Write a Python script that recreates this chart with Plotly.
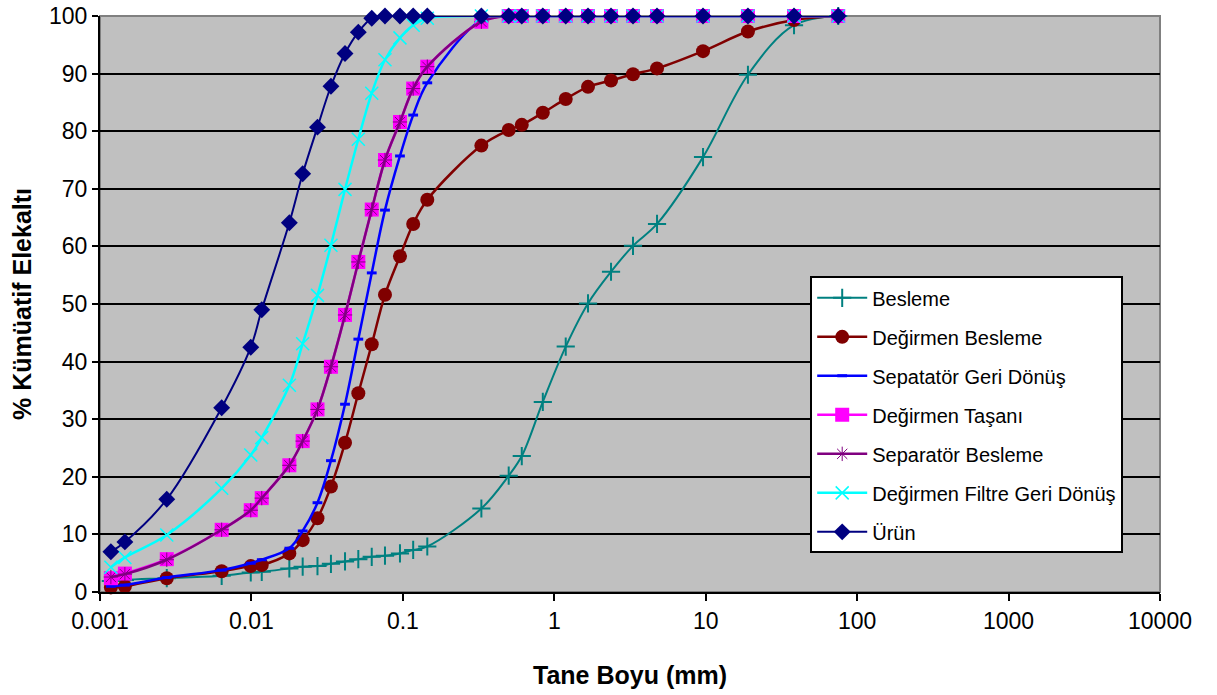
import plotly.graph_objects as go

# Sieve / particle sizes (mm), shared by all samples
sizes = [0.00118, 0.00146, 0.00276, 0.00636, 0.0099, 0.0117, 0.0178, 0.0218,
         0.0273, 0.0335, 0.0415, 0.0508, 0.0623, 0.0762, 0.0957, 0.117, 0.145,
         0.33, 0.5, 0.61, 0.84, 1.19, 1.67, 2.37, 3.31, 4.77, 9.6, 19.0, 38.3, 75.0]

# Cumulative passing (%) for each stream
besleme = [1.9, 2.1, 2.4, 2.8, 3.4, 3.5, 4.1, 4.4, 4.5, 4.9, 5.3, 5.7, 6.1, 6.3,
           6.7, 7.3, 7.9, 14.5, 20.2, 23.6, 33.0, 42.6, 50.1, 55.6, 60.1, 63.9,
           75.5, 89.8, 98.4, 100]
degirmen_besleme = [0.8, 1.0, 2.4, 3.6, 4.5, 4.7, 6.7, 9.0, 12.8, 18.3, 25.9,
                    34.5, 43.0, 51.6, 58.3, 63.9, 68.1, 77.5, 80.2, 81.1, 83.2,
                    85.6, 87.7, 88.8, 89.9, 90.9, 93.9, 97.3, 99.3, 100]
sepatator_geri = [1.0, 1.2, 2.5, 3.8, 5.0, 5.6, 7.6, 10.6, 15.5, 22.8, 32.6,
                  43.9, 55.4, 66.3, 75.7, 82.8, 88.4, 99.3, 100, 100, 100, 100,
                  100, 100, 100, 100, 100, 100, 100, 100]
degirmen_tasani = [2.4, 3.2, 5.7, 10.8, 14.2, 16.3, 22.0, 26.2, 31.7, 39.1,
                   48.1, 57.3, 66.4, 75.0, 81.6, 87.4, 91.2, 99.0, 100, 100, 100,
                   100, 100, 100, 100, 100, 100, 100, 100, 100]
separator_besleme = [2.6, 3.1, 5.6, 10.8, 14.2, 16.3, 22.0, 26.2, 31.7, 39.1,
                     48.1, 57.3, 66.4, 75.0, 81.6, 87.4, 91.2, 99.0, 100, 100,
                     100, 100, 100, 100, 100, 100, 100, 100, 100, 100]
filtre_geri = [4.3, 6.0, 9.9, 18.0, 23.8, 26.8, 35.9, 43.1, 51.5, 60.2, 69.9,
               78.6, 86.6, 92.4, 96.2, 98.4, 99.6, 100, 100, 100, 100, 100, 100,
               100, 100, 100, 100, 100, 100, 100]
urun = [7.0, 8.7, 16.1, 32.0, 42.5, 49.0, 64.1, 72.6, 80.7, 87.8, 93.5, 97.2,
        99.6, 100, 100, 100, 100, 100, 100, 100, 100, 100, 100, 100, 100, 100,
        100, 100, 100, 100]

x_ticks = [0.001, 0.01, 0.1, 1, 10, 100, 1000, 10000]
x_tick_text = ["0.001", "0.01", "0.1", "1", "10", "100", "1000", "10000"]
y_ticks = [0, 10, 20, 30, 40, 50, 60, 70, 80, 90, 100]

series = [
    ("Besleme", besleme, "#008080", 2, dict(symbol="cross-thin", size=13, line=dict(color="#008080", width=2))),
    ("Değirmen Besleme", degirmen_besleme, "#800000", 2.5, dict(symbol="circle", size=14, color="#800000")),
    ("Sepatatör Geri Dönüş", sepatator_geri, "#0000FF", 2.5, dict(symbol="line-ew", size=7, line=dict(color="#0000FF", width=3))),
    ("Değirmen Taşanı", degirmen_tasani, "#FF00FF", 2.5, dict(symbol="square", size=14, color="#FF00FF")),
    ("Separatör Besleme", separator_besleme, "#800080", 2.5, dict(symbol="asterisk", size=12, line=dict(color="#800080", width=1))),
    ("Değirmen Filtre Geri Dönüş", filtre_geri, "#00FFFF", 2.5, dict(symbol="x-thin", size=13, line=dict(color="#00FFFF", width=1.5))),
    ("Ürün", urun, "#000080", 2, dict(symbol="diamond", size=13, color="#000080")),
]

fig = go.Figure()
for i, (name, vals, color, lw, marker) in enumerate(series):
    marker = dict(marker)
    marker.setdefault("color", color)
    fig.add_trace(go.Scatter(
        x=sizes, y=vals, name=name, mode="lines+markers",
        line=dict(color=color, width=lw, shape="spline", smoothing=1.0),
        marker=marker, cliponaxis=False, legendgroup=f"g{i}",
    ))

# grey frame on top/right of the plotting area
fig.add_shape(type="rect", xref="paper", yref="paper", x0=0, x1=1, y0=0, y1=1,
              line=dict(color="#808080", width=2), layer="below")

font_family = "Liberation Sans, Arial, sans-serif"
fig.update_layout(
    width=1217, height=695,
    margin=dict(l=100, r=57, t=16, b=103, autoexpand=False),
    paper_bgcolor="white", plot_bgcolor="#C0C0C0",
    font=dict(family=font_family, color="black"),
    showlegend=True,
    legend=dict(
        x=0.670, y=0.548, xanchor="left", yanchor="top",
        bgcolor="white", bordercolor="black", borderwidth=2,
        font=dict(size=20, family=font_family, color="black"),
        tracegroupgap=10, itemwidth=50, traceorder="grouped",
    ),
)
fig.update_xaxes(
    type="log", range=[-3, 4], automargin=False,
    tickvals=x_ticks, ticktext=x_tick_text,
    tickfont=dict(size=23), ticks="outside", ticklen=7, tickwidth=2, tickcolor="black",
    showline=True, linecolor="black", linewidth=2, showgrid=False, zeroline=False,
    title=dict(text="<b>Tane Boyu (mm)</b>", font=dict(size=25), standoff=34),
)
fig.update_yaxes(
    range=[0, 100], tickvals=y_ticks, automargin=False,
    tickfont=dict(size=23), ticks="outside", ticklen=6, tickwidth=2, tickcolor="black",
    showline=True, linecolor="black", linewidth=2,
    showgrid=True, gridcolor="black", gridwidth=1.5, zeroline=False,
    title=dict(text="<b>% Kümüatif Elekaltı</b>", font=dict(size=25), standoff=10),
)

fig.write_html("out.html")
